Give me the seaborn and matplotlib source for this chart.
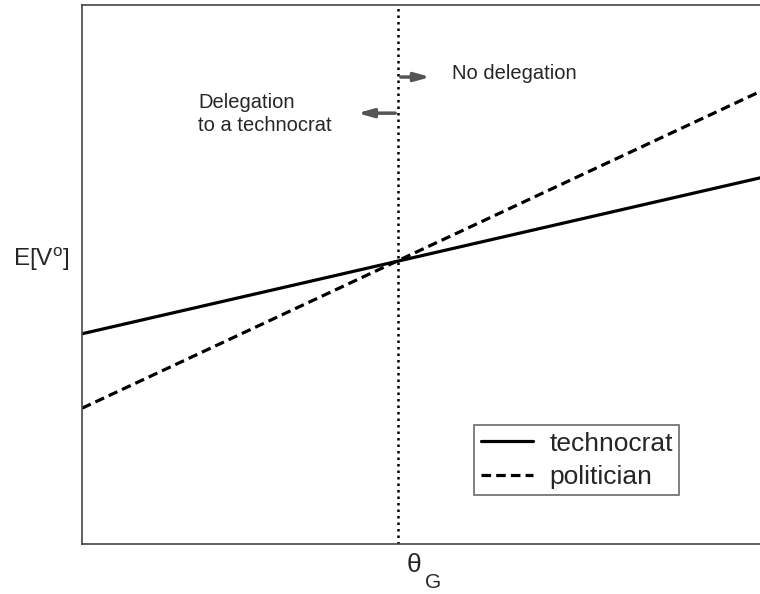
import matplotlib
matplotlib.use("Agg")
import matplotlib.pyplot as plt
import seaborn as sns
import pandas as pd

# theta on a 0..1 scale, expected value on a 0..1 scale
theta = [0.0, 1.0]
technocrat = [0.390, 0.679]
politician = [0.252, 0.839]
theta_g = 0.466
labels = ["technocrat", "politician"]

df = pd.DataFrame({
    "theta": theta * 2,
    "value": technocrat + politician,
    "agent": [labels[0]] * 2 + [labels[1]] * 2,
})

sns.set_style("white")
plt.rcParams["font.family"] = ["Liberation Sans", "DejaVu Sans"]
plt.rcParams["mathtext.fontset"] = "custom"
plt.rcParams["mathtext.rm"] = "Liberation Sans"

fig = plt.figure(figsize=(7.6, 5.94), dpi=100)
ax = fig.add_axes([0.108, 0.084, 0.892, 0.908])

sns.lineplot(data=df, x="theta", y="value", hue="agent", style="agent",
             palette=["black", "black"], dashes=[(None, None), (3, 1.6)],
             linewidth=2.3, ax=ax)

ax.axvline(theta_g, color="black", linestyle=(0, (1, 1.6)), linewidth=1.8)

ax.set_xlim(0, 1)
ax.set_ylim(0, 1)
ax.set_xticks([])
ax.set_yticks([])
ax.spines["right"].set_visible(False)
for s in ["left", "top", "bottom"]:
    ax.spines[s].set_color("#444444")
    ax.spines[s].set_linewidth(1.2)

ax.set_xlabel("")
ax.set_ylabel("")
# theta_G below the axis, upright like the original
fig.text(407 / 760, 1 - 565 / 594, "θ", ha="left", va="center", fontsize=19)
fig.text(425 / 760, 1 - 582 / 594, "G", ha="left", va="center", fontsize=15)
fig.text(13 / 760, 1 - 259 / 594, r"E[V$^\mathrm{o}$]", ha="left", va="center",
         fontsize=17.5)

arrow_style = dict(arrowstyle="-|>,head_length=0.9,head_width=0.25",
                   color="#555555", linewidth=2.5)
ax.annotate("", xy=(theta_g + 0.052, 0.866), xytext=(theta_g, 0.866),
            arrowprops=arrow_style)
ax.annotate("", xy=(theta_g - 0.064, 0.799), xytext=(theta_g, 0.799),
            arrowprops=arrow_style)
ax.text(0.546, 0.873, "No delegation", ha="left", va="center", fontsize=14.5)
ax.text(0.171, 0.797, "Delegation\nto a technocrat", ha="left", va="center",
        fontsize=14.5, linespacing=1.3)

leg = ax.legend(loc="upper left", bbox_to_anchor=(0.578, 0.221), borderaxespad=0,
                fontsize=19, frameon=True, fancybox=False, edgecolor="#444444",
                handlelength=2.0, handletextpad=0.6, borderpad=0.25,
                labelspacing=0.35)
leg.get_frame().set_linewidth(1.2)
for line in leg.get_lines():
    line.set_linewidth(2.3)

fig.savefig("out.png", dpi=100)
